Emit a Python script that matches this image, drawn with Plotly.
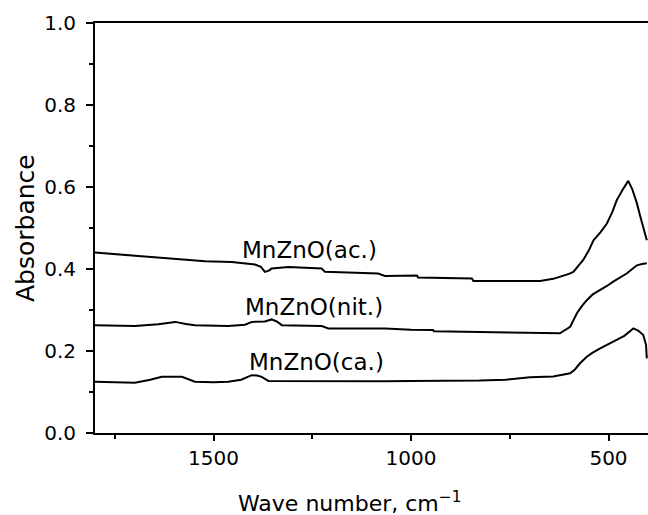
import plotly.graph_objects as go

ac_x = [1800, 1760, 1724, 1690, 1648, 1610, 1572, 1521, 1454, 1420, 1395, 1380, 1370, 1360, 1353, 1310,
        1226, 1218, 1150, 1083, 1066, 985, 982, 846, 842, 700, 673, 640, 623, 600, 589, 575, 564, 550,
        538, 520, 504, 490, 479, 465, 450, 440, 428, 420, 412, 403]
ac_y = [0.440, 0.437, 0.434, 0.433, 0.430, 0.427, 0.423, 0.419, 0.417, 0.414, 0.411, 0.405, 0.393, 0.396,
        0.401, 0.405, 0.401, 0.393, 0.391, 0.389, 0.383, 0.384, 0.379, 0.377, 0.371, 0.371, 0.371, 0.376,
        0.381, 0.388, 0.393, 0.408, 0.422, 0.445, 0.470, 0.490, 0.511, 0.540, 0.568, 0.592, 0.615, 0.595,
        0.560, 0.530, 0.499, 0.470]

nit_x = [1800, 1750, 1699, 1640, 1597, 1570, 1547, 1463, 1420, 1403, 1370, 1353, 1340, 1327, 1226, 1209,
         1066, 1000, 944, 942, 860, 775, 700, 623, 597, 580, 567, 555, 540, 521, 505, 488, 470, 454, 440,
         428, 415, 403]
nit_y = [0.263, 0.262, 0.261, 0.265, 0.271, 0.266, 0.263, 0.261, 0.264, 0.271, 0.272, 0.277, 0.272, 0.263,
         0.261, 0.255, 0.255, 0.252, 0.251, 0.248, 0.247, 0.2445, 0.244, 0.243, 0.259, 0.292, 0.310, 0.324,
         0.338, 0.3485, 0.358, 0.369, 0.379, 0.389, 0.400, 0.409, 0.412, 0.414]

ca_x = [1800, 1750, 1699, 1660, 1631, 1580, 1547, 1500, 1463, 1430, 1403, 1390, 1378, 1361, 1250, 1150,
        1066, 1000, 900, 827, 760, 699, 640, 597, 585, 572, 555, 540, 521, 500, 479, 460, 437, 425, 412,
        405, 403]
ca_y = [0.125, 0.124, 0.1225, 0.130, 0.137, 0.137, 0.125, 0.124, 0.125, 0.130, 0.141, 0.140, 0.137, 0.127,
        0.126, 0.125, 0.126, 0.127, 0.127, 0.128, 0.130, 0.1357, 0.138, 0.1455, 0.155, 0.170, 0.186, 0.196,
        0.2064, 0.217, 0.2267, 0.237, 0.255, 0.250, 0.239, 0.215, 0.182]

labels = ["MnZnO(ac.)", "MnZnO(nit.)", "MnZnO(ca.)"]
label_x = [1258, 1245, 1240]
label_y = [0.446, 0.308, 0.174]

x_ticks = [1500, 1000, 500]
y_ticks = [0.0, 0.2, 0.4, 0.6, 0.8, 1.0]

FONT = "DejaVu Sans"

fig = go.Figure()
for xs, ys in [(ac_x, ac_y), (nit_x, nit_y), (ca_x, ca_y)]:
    fig.add_trace(go.Scatter(x=xs, y=ys, mode="lines",
                             line=dict(color="black", width=2), showlegend=False))

for t, lx, ly in zip(labels, label_x, label_y):
    fig.add_annotation(x=lx, y=ly, text=t, showarrow=False, xanchor="center", yanchor="middle",
                       font=dict(family=FONT, size=23, color="black"))

fig.add_annotation(xref="paper", yref="paper", x=0, y=0.5, xshift=-70, text="Absorbance",
                   textangle=-90, showarrow=False, xanchor="center", yanchor="middle",
                   font=dict(family=FONT, size=25, color="black"))
fig.add_annotation(xref="paper", yref="paper", x=0.461, y=0, yshift=-69,
                   text="Wave number, cm<sup>−1</sup>", showarrow=False,
                   xanchor="center", yanchor="middle",
                   font=dict(family=FONT, size=22, color="black"))

fig.update_layout(
    width=648, height=515,
    margin=dict(l=95, r=0, t=23, b=82),
    plot_bgcolor="white", paper_bgcolor="white",
    font=dict(family=FONT, size=20, color="black"),
)
fig.update_xaxes(
    range=[1800, 400], tickvals=x_ticks, ticktext=[str(v) for v in x_ticks],
    showgrid=False, zeroline=False, showline=True, linecolor="black", linewidth=2,
    mirror=True, ticks="outside", ticklen=6, tickwidth=2, tickcolor="black",
    minor=dict(tickvals=[1750, 1250, 750], ticks="outside", ticklen=4, tickwidth=2, tickcolor="black"),
)
fig.update_yaxes(
    range=[0, 1], tickvals=y_ticks, ticktext=[f"{v:.1f}" for v in y_ticks],
    showgrid=False, zeroline=False, showline=True, linecolor="black", linewidth=2,
    mirror=False, ticks="outside", ticklen=7, tickwidth=2, tickcolor="black",
    ticklabelstandoff=6,
    minor=dict(tickvals=[0.1, 0.3, 0.5, 0.7, 0.9], ticks="outside", ticklen=4, tickwidth=2, tickcolor="black"),
)

fig.write_html("out.html")
